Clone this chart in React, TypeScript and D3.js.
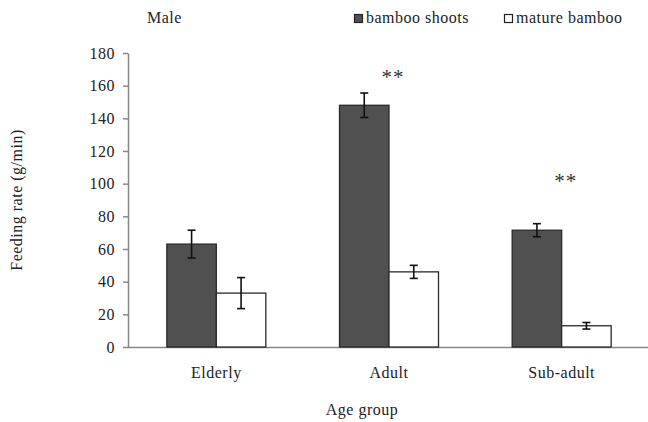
import React, { useEffect, useRef } from 'react';
import * as d3 from 'd3';

const groups = ['Elderly', 'Adult', 'Sub-adult'];
const seriesNames = ['bamboo shoots', 'mature bamboo'];
const shootsMean = [63, 148, 71.5];
const shootsErr = [8.5, 7.5, 4];
const matureMean = [33, 46, 13];
const matureErr = [9.5, 4, 2];
const signif = ['', '**', '**'];
// height (data units) where the significance marks sit
const signifAt = [0, 166, 102];
const yTicks = [0, 20, 40, 60, 80, 100, 120, 140, 160, 180];

const fillColors = ['#505050', '#ffffff'];
const font = "'Liberation Serif', 'Times New Roman', serif";

const App: React.FC = () => {
  const svgRef = useRef<SVGSVGElement>(null);

  useEffect(() => {
    if (!svgRef.current) return;
    const width = 648;
    const height = 422;
    const margin = { top: 53, right: 0, bottom: 73, left: 130 };

    const svg = d3.select(svgRef.current);
    svg.selectAll('*').remove();

    const x = d3.scaleBand().domain(groups).range([margin.left, width - margin.right]).padding(0);
    const y = d3.scaleLinear().domain([0, 180]).range([height - margin.bottom - 2, margin.top]);

    const styleText = (sel: any) =>
      sel.style('font-family', font).style('font-size', '16px').style('letter-spacing', '0.5px').attr('fill', '#222');

    // Axes
    const yAxis = svg
      .append('g')
      .attr('transform', `translate(${margin.left - 2},0)`)
      .call(d3.axisLeft(y).tickValues(yTicks).tickSize(5).tickPadding(8).tickSizeOuter(0));
    styleText(yAxis.selectAll('text'));

    const xAxis = svg
      .append('g')
      .attr('transform', `translate(0,${y(0)})`)
      .call(d3.axisBottom(x).tickSize(0).tickPadding(20));
    styleText(xAxis.selectAll('text'));
    xAxis.select('.domain').attr('d', `M${margin.left - 2},0.5H${width}`);

    svg.selectAll('.domain, .tick line').attr('stroke', '#888').attr('stroke-width', 1.5);

    const barW = 49.5;
    const series = [
      { mean: shootsMean, err: shootsErr },
      { mean: matureMean, err: matureErr },
    ];

    series.forEach((s, si) => {
      const g = svg.append('g');
      groups.forEach((grp, gi) => {
        const cx = (x(grp) || 0) + x.bandwidth() / 2;
        const bx = cx - barW + si * barW;
        g.append('rect')
          .attr('x', bx)
          .attr('y', y(s.mean[gi]))
          .attr('width', barW)
          .attr('height', y(0) - y(s.mean[gi]))
          .attr('fill', fillColors[si])
          .attr('stroke', '#2a2a2a')
          .attr('stroke-width', 1.3);
        const ex = bx + barW / 2;
        const top = y(s.mean[gi] + s.err[gi]);
        const bot = y(s.mean[gi] - s.err[gi]);
        g.append('line').attr('x1', ex).attr('x2', ex).attr('y1', top).attr('y2', bot).attr('stroke', '#111').attr('stroke-width', 1.6);
        [top, bot].forEach((yy) => {
          g.append('line').attr('x1', ex - 4).attr('x2', ex + 4).attr('y1', yy).attr('y2', yy).attr('stroke', '#111').attr('stroke-width', 1.6);
        });
      });
    });

    // Significance marks
    groups.forEach((grp, gi) => {
      if (!signif[gi]) return;
      const cx = (x(grp) || 0) + x.bandwidth() / 2 + 4;
      svg
        .append('text')
        .attr('x', cx)
        .attr('y', y(signifAt[gi]) + 8)
        .attr('text-anchor', 'middle')
        .style('font-family', font)
        .style('font-size', '21px')
        .style('letter-spacing', '1px')
        .attr('fill', '#333')
        .text(signif[gi]);
    });

    // Titles
    styleText(
      svg
        .append('text')
        .attr('transform', `translate(22,${(y(0) + y(180)) / 2}) rotate(-90)`)
        .attr('text-anchor', 'middle')
        .text('Feeding rate (g/min)'),
    );

    styleText(svg.append('text').attr('x', 362).attr('y', 415).attr('text-anchor', 'middle').text('Age group'));

    styleText(svg.append('text').attr('x', 147).attr('y', 23).text('Male'));

    // Legend
    const legendX = [354, 504];
    seriesNames.forEach((name, i) => {
      const lg = svg.append('g').attr('transform', `translate(${legendX[i]},14)`);
      lg.append('rect').attr('x', 0.5).attr('y', 0.5).attr('width', 8).attr('height', 8).attr('fill', fillColors[i]).attr('stroke', '#222').attr('stroke-width', 1.2);
      styleText(lg.append('text').attr('x', 12).attr('y', 9).text(name));
    });
  }, []);

  return (
    <div style={{ position: 'absolute', left: 0, top: 0 }}>
      <svg ref={svgRef} width={648} height={422} style={{ display: 'block', background: '#fff' }} />
    </div>
  );
};

export default App;
